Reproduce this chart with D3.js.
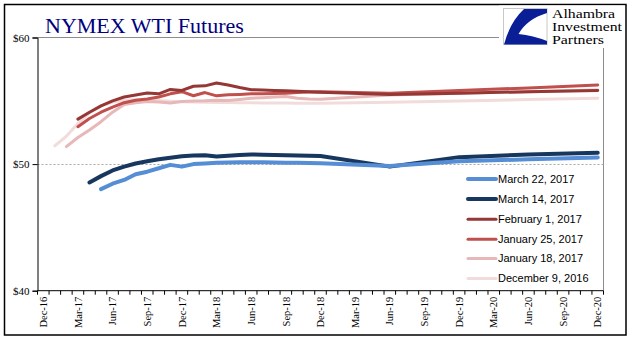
<!DOCTYPE html>
<html><head><meta charset="utf-8">
<script src="https://cdn.jsdelivr.net/npm/d3@7"></script>
<style>body{margin:0;background:#fff}svg{display:block}</style>
</head><body>
<svg id="c" width="641" height="341"></svg>
<script>
// ---- data ----
const months = d3.timeMonth.range(new Date(2016, 11, 1), new Date(2021, 0, 1)).map(d3.timeFormat("%b-%y"));
const tickLabels = ["Dec-16","Mar-17","Jun-17","Sep-17","Dec-17","Mar-18","Jun-18","Sep-18","Dec-18","Mar-19","Jun-19","Sep-19","Dec-19","Mar-20","Jun-20","Sep-20","Dec-20"];
const yTicks = [40, 50, 60];

const mar22 = [["May-17",48.02],["Jun-17",48.45],["Jul-17",48.75],["Aug-17",49.2],["Sep-17",49.4],["Oct-17",49.67],["Nov-17",49.94],["Dec-17",49.8],["Jan-18",50.0],["Feb-18",50.05],["Mar-18",50.1],["Apr-18",50.13],["May-18",50.15],["Jun-18",50.15],["Jul-18",50.14],["Aug-18",50.12],["Sep-18",50.11],["Oct-18",50.1],["Nov-18",50.08],["Dec-18",50.06],["Jun-19",49.85],["Dec-19",50.22],["Jun-20",50.38],["Dec-20",50.53]];
const mar14 = [["Apr-17",48.55],["May-17",49.05],["Jun-17",49.5],["Jul-17",49.8],["Aug-17",50.05],["Sep-17",50.22],["Oct-17",50.38],["Nov-17",50.5],["Dec-17",50.62],["Jan-18",50.68],["Feb-18",50.7],["Mar-18",50.6],["Apr-18",50.66],["May-18",50.72],["Jun-18",50.76],["Jul-18",50.74],["Aug-18",50.72],["Sep-18",50.7],["Oct-18",50.68],["Nov-18",50.66],["Dec-18",50.64],["Jun-19",49.8],["Dec-19",50.55],["Jun-20",50.75],["Dec-20",50.9]];
const feb1 = [["Mar-17",53.55],["Apr-17",54.1],["May-17",54.6],["Jun-17",55.0],["Jul-17",55.3],["Aug-17",55.45],["Sep-17",55.62],["Oct-17",55.55],["Nov-17",55.9],["Dec-17",55.82],["Jan-18",56.15],["Feb-18",56.18],["Mar-18",56.4],["Apr-18",56.25],["May-18",56.05],["Jun-18",55.88],["Jul-18",55.85],["Aug-18",55.82],["Sep-18",55.8],["Oct-18",55.76],["Nov-18",55.72],["Dec-18",55.68],["Jun-19",55.5],["Dec-19",55.6],["Jun-20",55.72],["Dec-20",55.82]];
const jan25 = [["Mar-17",52.95],["Apr-17",53.6],["May-17",54.1],["Jun-17",54.5],["Jul-17",54.85],["Aug-17",55.05],["Sep-17",55.15],["Oct-17",55.3],["Nov-17",55.55],["Dec-17",55.72],["Jan-18",55.4],["Feb-18",55.65],["Mar-18",55.39],["Apr-18",55.47],["May-18",55.5],["Jun-18",55.55],["Jul-18",55.55],["Aug-18",55.58],["Sep-18",55.6],["Oct-18",55.65],["Nov-18",55.7],["Dec-18",55.72],["Jun-19",55.6],["Dec-19",55.82],["Jun-20",56.02],["Dec-20",56.25]];
const jan18 = [["Feb-17",51.38],["Mar-17",52.1],["Apr-17",52.7],["May-17",53.35],["Jun-17",54.1],["Jul-17",54.7],["Aug-17",54.85],["Sep-17",54.94],["Oct-17",54.9],["Nov-17",54.82],["Dec-17",54.94],["Jan-18",54.98],["Feb-18",55.0],["Mar-18",55.05],["Apr-18",55.02],["May-18",55.1],["Jun-18",55.2],["Jul-18",55.25],["Aug-18",55.3],["Sep-18",55.34],["Oct-18",55.2],["Nov-18",55.15],["Dec-18",55.13],["Jun-19",55.45],["Dec-19",55.6],["Jun-20",55.72],["Dec-20",55.85]];
const dec9 = [["Jan-17",51.44],["Feb-17",52.2],["Mar-17",53.2],["Apr-17",54.05],["May-17",54.6],["Jun-17",54.9],["Jul-17",55.05],["Aug-17",55.08],["Sep-17",55.08],["Oct-17",55.02],["Nov-17",54.97],["Dec-17",54.92],["Jan-18",54.9],["Feb-18",54.88],["Mar-18",54.87],["Apr-18",54.86],["May-18",54.85],["Jun-18",54.84],["Jul-18",54.83],["Aug-18",54.82],["Sep-18",54.82],["Oct-18",54.81],["Nov-18",54.81],["Dec-18",54.81],["Jun-19",54.88],["Dec-19",54.98],["Jun-20",55.1],["Dec-20",55.21]];

const seriesNames = ["March 22, 2017","March 14, 2017","February 1, 2017","January 25, 2017","January 18, 2017","December 9, 2016"];
const seriesData = [mar22, mar14, feb1, jan25, jan18, dec9];
const seriesColors = ["#558ED5","#17375E","#953735","#C0504D","#E6B9B8","#F2DCDB"];
const seriesWidths = [4, 4, 3, 3, 3, 3];
const logoLines = ["Alhambra", "Investment", "Partners"];

// ---- chart ----
const svg = d3.select("#c");
const L = 37.5, R = 603.5, T = 37.5, B = 290.7;
const x = d3.scaleBand().domain(months).range([L, R]);
const y = d3.scaleLinear().domain([40, 60]).range([B, T]);

// outer frame
svg.append("rect").attr("x", 4.5).attr("y", 4.5).attr("width", 621.5).attr("height", 330.5)
  .attr("fill", "#fff").attr("stroke", "#000").attr("stroke-width", 1.5);

// plot border (gray)
svg.append("path").attr("d", `M${L},${T}H${R}V${B}`).attr("fill", "none").attr("stroke", "#8c8c8c").attr("stroke-width", 1);

// gridline at 50
svg.append("line").attr("x1", L).attr("x2", R).attr("y1", Math.round(y(50)) + 0.5).attr("y2", Math.round(y(50)) + 0.5)
  .attr("stroke", "#a6a6a6").attr("stroke-width", 1).attr("stroke-dasharray", "2,2");

// lines
const line = d3.line().x(d => x(d[0]) + x.bandwidth() / 2).y(d => y(d[1]));
const order = [5, 4, 3, 2, 1, 0];
order.forEach(i => {
  svg.append("path").datum(seriesData[i]).attr("d", line).attr("fill", "none")
    .attr("stroke", seriesColors[i]).attr("stroke-width", seriesWidths[i])
    .attr("stroke-linejoin", "round").attr("stroke-linecap", "round");
});

// y axis
const yAxis = d3.axisLeft(y).tickValues(yTicks).tickSize(5).tickPadding(3).tickFormat(d => "$" + d);
const gy = svg.append("g").attr("transform", `translate(${L},0)`).call(yAxis);
gy.select(".domain").attr("stroke", "#000");
gy.selectAll(".tick line").attr("stroke", "#000");
gy.selectAll("text").attr("font-family", "'Liberation Serif', 'Times New Roman', serif").attr("font-size", 11).attr("fill", "#000");

// x axis: labels every 3 months (centered on category), ticks at month boundaries
const xAxis = d3.axisBottom(x).tickValues(tickLabels).tickSize(0).tickPadding(0);
const gx = svg.append("g").attr("transform", `translate(0,${B})`).call(xAxis);
gx.select(".domain").remove();
gx.selectAll("text").attr("font-family", "'Liberation Serif', 'Times New Roman', serif").attr("font-size", 10.5).attr("fill", "#000")
  .attr("transform", "rotate(-90)").attr("text-anchor", "end").attr("x", -6).attr("y", 0).attr("dy", "0.35em");
svg.append("line").attr("x1", L).attr("x2", R).attr("y1", B).attr("y2", B).attr("stroke", "#000");
svg.append("g").selectAll("line").data(months.concat(["__end"])).join("line")
  .attr("x1", d => d === "__end" ? R : x(d)).attr("x2", d => d === "__end" ? R : x(d))
  .attr("y1", B).attr("y2", B + 4).attr("stroke", "#000");

// title
svg.append("text").attr("x", 45).attr("y", 33).text("NYMEX WTI Futures")
  .attr("font-family", "'Liberation Serif', 'Times New Roman', serif").attr("font-size", 22).attr("fill", "#000080");

// logo
const lg = svg.append("g");
lg.append("rect").attr("x", 499).attr("y", 5.5).attr("width", 126).attr("height", 42.5).attr("fill", "#fff");
lg.append("rect").attr("x", 503.5).attr("y", 8.5).attr("width", 43.5).attr("height", 36).attr("fill", "#fff").attr("stroke", "#c8c8c8").attr("stroke-width", 1);
lg.append("path").attr("d", "M524,9 L547,9 L547,13 Q527,19 518.5,34 Q533,35.5 547,41 L547,44.5 L504,44.5 Q510,22 524,9 Z").attr("fill", "#0a1e96");
const logoY = [17.5, 30.5, 43.5];
const logoW = [63, 70, 52];
logoLines.forEach((t, i) => {
  lg.append("text").attr("x", 552).attr("y", logoY[i]).text(t)
    .attr("textLength", logoW[i]).attr("lengthAdjust", "spacingAndGlyphs")
    .attr("font-family", "'Liberation Serif', 'Times New Roman', serif").attr("font-size", 11.5).attr("fill", "#000");
});

// legend
const leg = svg.append("g");
const legY = [179, 199, 219.3, 239.3, 258.5, 278.5];
seriesNames.forEach((n, i) => {
  leg.append("line").attr("x1", 468).attr("x2", 496).attr("y1", legY[i]).attr("y2", legY[i])
    .attr("stroke", seriesColors[i]).attr("stroke-width", seriesWidths[i]).attr("stroke-linecap", "round");
  leg.append("text").attr("x", 498).attr("y", legY[i]).attr("dy", "0.35em").text(n)
    .attr("font-family", "'Liberation Sans', Arial, sans-serif").attr("font-size", 11).attr("fill", "#000");
});
</script>
</body></html>
